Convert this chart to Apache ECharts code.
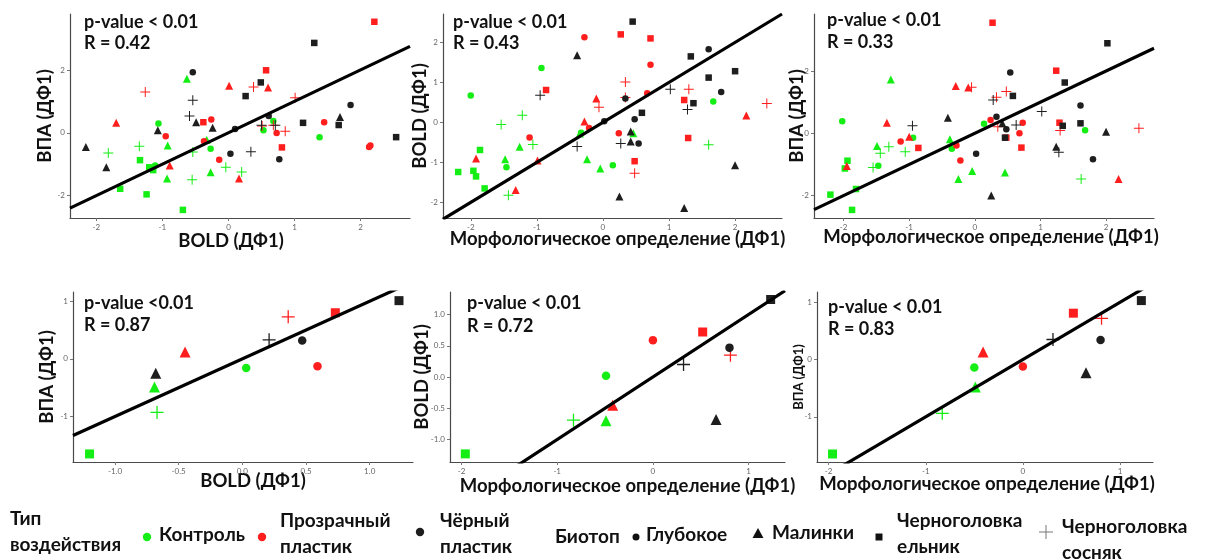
<!DOCTYPE html>
<html><head><meta charset="utf-8">
<script src="https://cdn.jsdelivr.net/npm/echarts@6/dist/echarts.min.js"></script>
<style>html,body{margin:0;padding:0;background:#fff}#c{width:1229px;height:560px}</style>
</head><body><div id="c"></div>
<script>
// ===== DATA =====
// rows: [x, y, treatment (К=Контроль, П=Прозрачный пластик, Ч=Чёрный пластик), biotope (Г=Глубокое, М=Малинки, Е=ельник, С=сосняк)]
const panel1 = [
 [-0.63,1.74,'К','М'],[-1.06,0.30,'К','Г'],[-1.35,-0.43,'К','С'],[-1.82,-0.65,'К','С'],
 [-1.34,-0.88,'К','Е'],[-1.20,-1.11,'К','Е'],[-1.14,-1.20,'К','Е'],[-0.92,-0.41,'К','М'],
 [-0.93,-1.47,'К','М'],[-1.64,-1.80,'К','Е'],[-1.24,-1.98,'К','Е'],[-0.69,-2.48,'К','Е'],
 [-0.55,-1.51,'К','С'],[-0.54,-0.62,'К','С'],[-0.33,-0.22,'К','М'],[-0.27,-0.51,'К','Г'],
 [-0.27,-1.27,'К','М'],[-0.04,-1.11,'К','С'],[0.20,-1.26,'К','С'],[0.53,0.08,'К','Г'],
 [0.68,0.38,'К','Г'],[1.38,-0.14,'К','Г'],[-1.11,-1.05,'К','Г'],
 [-1.26,1.31,'П','С'],[-1.70,0.32,'П','М'],[-0.95,-0.11,'П','Г'],[-0.89,-1.05,'П','М'],
 [-0.38,0.34,'П','Е'],[-0.26,0.43,'П','Г'],[-0.37,-0.27,'П','Г'],[0.01,1.51,'П','М'],
 [0.38,1.47,'П','С'],[0.60,1.46,'П','М'],[0.57,2.01,'П','Е'],[2.21,3.57,'П','Е'],
 [0.51,0.22,'П','С'],[0.68,0.24,'П','С'],[0.73,-0.01,'П','Г'],[0.86,0.05,'П','С'],
 [0.81,-0.47,'П','Е'],[0.16,-1.47,'П','М'],[-0.14,-0.87,'П','Г'],[1.45,0.34,'П','Г'],
 [2.13,-0.46,'П','Г'],[2.15,-0.41,'П','Г'],[1.01,1.13,'П','С'],
 [-2.16,-0.46,'Ч','М'],[-1.85,-1.11,'Ч','М'],[-1.07,0.08,'Ч','М'],[-0.49,0.34,'Ч','М'],
 [-0.24,0.16,'Ч','М'],[-0.54,1.95,'Ч','Г'],[-0.54,1.05,'Ч','С'],[-0.59,0.54,'Ч','С'],
 [0.10,0.12,'Ч','Г'],[0.03,-0.67,'Ч','Г'],[0.34,-0.61,'Ч','С'],[0.49,1.62,'Ч','Е'],
 [0.26,1.18,'Ч','Е'],[0.61,0.54,'Ч','Г'],[0.50,0.24,'Ч','С'],[0.71,0.24,'Ч','С'],
 [0.77,-0.85,'Ч','Г'],[1.30,2.89,'Ч','Е'],[1.13,0.32,'Ч','Е'],[1.85,0.89,'Ч','Г'],
 [1.69,0.51,'Ч','М'],[1.67,0.25,'Ч','Е'],[2.54,-0.14,'Ч','Е']
];
const panel2 = [
 [-2.00,0.67,'К','Г'],[-0.93,1.36,'К','Г'],[-1.54,-0.05,'К','С'],[-1.22,0.18,'К','С'],
 [-1.86,-0.69,'К','Е'],[-2.19,-1.24,'К','Е'],[-1.96,-1.21,'К','Е'],[-1.92,-1.35,'К','Е'],
 [-1.79,-1.65,'К','Е'],[-1.48,-0.92,'К','М'],[-1.46,-1.12,'К','Г'],[-1.26,-0.61,'К','М'],
 [-1.06,-0.55,'К','С'],[-1.43,-1.82,'К','С'],[-0.35,-0.28,'К','М'],[-0.33,-0.26,'К','Г'],
 [-0.24,-0.92,'К','М'],[-0.04,-1.15,'К','М'],[0.15,-1.07,'К','Г'],[0.46,-0.27,'К','М'],
 [1.67,0.52,'К','Г'],[1.60,-0.56,'К','С'],
 [-0.28,2.13,'П','Г'],[0.27,2.20,'П','Е'],[0.72,2.10,'П','Е'],[0.72,1.44,'П','Г'],
 [-0.86,0.81,'П','Е'],[-1.11,-0.38,'П','Г'],[-1.92,-0.90,'П','М'],[-1.32,-1.69,'П','М'],
 [-0.99,-0.95,'П','М'],[-0.10,0.60,'П','М'],[-0.06,0.38,'П','С'],[-0.28,0.02,'П','М'],
 [-0.21,-0.14,'П','Г'],[0.34,1.01,'П','С'],[0.34,0.62,'П','С'],[0.67,0.73,'П','Г'],
 [0.24,-0.27,'П','Г'],[0.48,-0.97,'П','Е'],[0.48,-1.27,'П','С'],[1.23,0.56,'П','Е'],
 [1.29,-0.39,'П','Е'],[1.30,0.83,'П','С'],[2.48,0.47,'П','С'],[2.17,0.17,'П','М'],
 [0.45,2.52,'Ч','Е'],[-0.39,1.68,'Ч','М'],[1.60,1.83,'Ч','Г'],[1.33,1.65,'Ч','Е'],
 [1.60,1.12,'Ч','Е'],[2.00,1.28,'Ч','Е'],[1.79,0.76,'Ч','Г'],[1.02,0.83,'Ч','С'],
 [1.28,0.32,'Ч','С'],[1.37,0.48,'Ч','Е'],[0.34,0.60,'Ч','Г'],[0.59,0.24,'Ч','Е'],
 [0.48,0.08,'Ч','Г'],[0.02,0.03,'Ч','Г'],[0.42,-0.23,'Ч','М'],[0.42,-0.48,'Ч','М'],
 [0.54,-0.53,'Ч','Г'],[0.27,-0.53,'Ч','С'],[-0.39,-0.60,'Ч','С'],[-0.95,0.68,'Ч','С'],
 [0.25,-1.85,'Ч','М'],[1.23,-2.14,'Ч','М'],[2.00,-1.07,'Ч','М']
];
const panel3 = [
 [-2.02,0.39,'К','Г'],[-1.28,1.73,'К','М'],[-1.94,-0.88,'К','Е'],[-1.98,-1.13,'К','Е'],
 [-2.20,-1.97,'К','Е'],[-1.87,-2.46,'К','Е'],[-1.81,-1.79,'К','Е'],[-1.49,-0.41,'К','М'],
 [-1.31,-0.43,'К','С'],[-1.44,-0.64,'К','С'],[-1.47,-1.04,'К','Г'],[-1.55,-1.10,'К','С'],
 [-0.94,-0.14,'К','Г'],[-0.38,-0.19,'К','М'],[-0.35,-0.50,'К','Г'],[-0.25,-1.47,'К','М'],
 [-0.04,-1.21,'К','М'],[0.14,0.31,'К','Г'],[0.46,-1.26,'К','М'],[1.68,0.10,'К','Г'],
 [1.62,-1.47,'К','С'],[-1.06,-0.59,'К','С'],
 [0.27,3.55,'П','Е'],[-0.29,1.52,'П','М'],[-0.10,1.47,'П','М'],[-0.05,1.48,'П','С'],
 [0.48,1.34,'П','С'],[0.33,1.16,'П','С'],[-1.34,0.34,'П','М'],[-1.00,-0.11,'П','М'],
 [-1.13,-0.26,'П','Г'],[-0.86,-0.47,'П','Е'],[-1.95,-1.05,'П','М'],[-0.28,-0.39,'П','Г'],
 [-0.22,-0.87,'П','Г'],[0.24,0.43,'П','Г'],[0.35,0.21,'П','С'],[0.48,-0.14,'П','Е'],
 [0.68,0.00,'П','Г'],[0.73,0.34,'П','Г'],[0.71,-0.46,'П','Е'],[1.24,2.01,'П','Е'],
 [1.29,0.34,'П','Е'],[1.30,0.09,'П','С'],[2.50,0.16,'П','С'],[2.19,-1.47,'П','М'],
 [2.02,2.89,'Ч','Е'],[1.37,1.63,'Ч','Е'],[0.58,1.20,'Ч','Е'],[0.54,1.95,'Ч','Г'],
 [0.28,1.07,'Ч','С'],[0.33,0.53,'Ч','Г'],[0.42,0.32,'Ч','М'],[0.48,0.13,'Ч','Г'],
 [0.46,-0.14,'Ч','Е'],[0.63,0.27,'Ч','С'],[1.02,0.70,'Ч','С'],[1.61,0.89,'Ч','Г'],
 [1.61,0.32,'Ч','Е'],[1.34,0.24,'Ч','Е'],[2.00,0.05,'Ч','М'],[1.24,-0.43,'Ч','М'],
 [1.28,-0.61,'Ч','С'],[1.80,-0.83,'Ч','Г'],[0.02,-0.66,'Ч','Г'],[-0.41,0.50,'Ч','М'],
 [-0.95,0.24,'Ч','С'],[0.25,-2.00,'Ч','М']
];
const panel4 = [
 [-1.20,-1.65,'К','Е'],[-0.67,-0.93,'К','С'],[-0.69,-0.49,'К','М'],[0.03,-0.16,'К','Г'],
 [-0.45,0.12,'П','М'],[0.36,0.73,'П','С'],[0.59,-0.13,'П','Г'],[0.73,0.80,'П','Е'],
 [-0.68,-0.25,'Ч','М'],[0.21,0.33,'Ч','С'],[0.47,0.32,'Ч','Г'],[1.23,1.01,'Ч','Е']
];
const panel5 = [
 [-1.96,-1.23,'К','Е'],[-0.83,-0.69,'К','С'],[-0.49,-0.70,'К','М'],[-0.49,0.02,'К','Г'],
 [-0.42,-0.45,'П','М'],[0.00,0.59,'П','Г'],[0.52,0.72,'П','Е'],[0.81,0.35,'П','С'],
 [0.32,0.20,'Ч','С'],[0.80,0.47,'Ч','Г'],[0.66,-0.68,'Ч','М'],[1.23,1.24,'Ч','Е']
];
const panel6 = [
 [-1.96,-1.65,'К','Е'],[-0.83,-0.94,'К','С'],[-0.49,-0.48,'К','М'],[-0.50,-0.14,'К','Г'],
 [-0.41,0.13,'П','М'],[0.00,-0.12,'П','Г'],[0.52,0.81,'П','Е'],[0.81,0.72,'П','С'],
 [0.31,0.35,'Ч','С'],[0.80,0.34,'Ч','Г'],[0.65,-0.23,'Ч','М'],[1.22,1.03,'Ч','Е']
];
const pTexts = ['p-value < 0.01','p-value < 0.01','p-value < 0.01','p-value <0.01','p-value < 0.01','p-value < 0.01'];
const rTexts = ['R = 0.42','R = 0.43','R = 0.33','R = 0.87','R = 0.72','R = 0.83'];
const slopes = [1.01, 1.0, 1.0, 1.0, 1.0, 1.0];
const intercepts = [0, 0, 0, 0, 0, 0];
const xNames = ['BOLD (ДФ1)','Морфологическое определение (ДФ1)','Морфологическое определение (ДФ1)','BOLD (ДФ1)','Морфологическое определение (ДФ1)','Морфологическое определение (ДФ1)'];
const yNames = ['ВПА (ДФ1)','BOLD (ДФ1)','ВПА (ДФ1)','ВПА (ДФ1)','BOLD (ДФ1)','ВПА (ДФ1)'];
const xTicks = [[-2,-1,0,1,2],[-2,-1,0,1,2],[-2,-1,0,1,2],[-1,-0.5,0,0.5,1],[-2,-1,0,1],[-2,-1,0,1]];
const yTicks = [[-2,0,2],[-2,-1,0,1,2],[-2,0,2],[-1,0,1],[-1,-0.5,0,0.5,1],[-1,0,1]];
const xDigits = [0,0,0,1,0,0];
const yDigits = [0,0,0,0,1,0];
const xRanges = [[-2.40,2.75],[-2.42,2.71],[-2.45,2.73],[-1.33,1.34],[-2.12,1.38],[-2.12,1.34]];
const yRanges = [[-2.74,3.82],[-2.39,2.71],[-2.72,3.83],[-1.79,1.16],[-1.36,1.36],[-1.79,1.18]];
const treatments = ['К','П','Ч'];
const biotopes = ['Г','М','Е','С'];
const legendTitles = ['Тип\nвоздействия','Биотоп'];
const treatmentLabels = ['Контроль','Прозрачный\nпластик','Чёрный\nпластик'];
const biotopeLabels = ['Глубокое','Малинки','Черноголовка\nельник','Черноголовка\nсосняк'];

// ===== STYLE / LAYOUT =====
const FONT = 'Lato, "Open Sans", sans-serif';
const COLORS = {'К':'#14ee14','П':'#ff1e1e','Ч':'#1e1e1e'};
const PLUS = 'path://M4.5,0H5.5V4.5H10V5.5H5.5V10H4.5V5.5H0V4.5H4.5Z';
const SYM = {'Г':'circle','М':'triangle','Е':'rect','С':PLUS};
const SIZE_T = {'Г':6.5,'М':8,'Е':6.5,'С':10};
const SIZE_B = {'Г':8.5,'М':11,'Е':9,'С':13};
const grids = [
 {left:70,top:14,width:340,height:204},
 {left:443,top:14,width:339,height:204},
 {left:814,top:14,width:340,height:204},
 {left:73,top:292,width:340,height:170},
 {left:450,top:292,width:335,height:170},
 {left:817,top:292,width:336,height:170}
];
const NAME_SIZE = 18.5;
const xNameGap = [14,12,10,10,15,13];
const xNamePad = [[0,18,0,0],[0,0,0,10],[0,0,0,14],[0,0,0,20],[0,0,0,20],[0,0,0,4]];
const yNameGap = [15,13,7,16,18,12];
const yNameSize = [NAME_SIZE,NAME_SIZE,NAME_SIZE,NAME_SIZE,NAME_SIZE,13];
const statPos = [[84,22,43],[453,22,43],[827,20,42],[84,303,325],[467,303,326],[828,307,329]];

const panels = [panel1,panel2,panel3,panel4,panel5,panel6];
const option = {animation:false, backgroundColor:'#fff', grid:[], xAxis:[], yAxis:[], series:[], graphic:[]};

panels.forEach((rows,i)=>{
  const bottom = i>=3;
  option.grid.push(Object.assign({containLabel:false, outerBoundsMode:'none'}, grids[i]));
  const axisCommon = {
    type:'value', gridIndex:i, nameLocation:'middle', nameMoveOverlap:false,
    axisLine:{show:true,onZero:false,lineStyle:{color:'#4a4a4a',width:1.2}},
    splitLine:{show:false}
  };
  option.xAxis.push(Object.assign({}, axisCommon, {
    min:xRanges[i][0], max:xRanges[i][1],
    name:xNames[i], nameGap:xNameGap[i],
    nameTextStyle:{fontFamily:FONT,fontWeight:'bold',fontSize:NAME_SIZE,color:'#111',padding:xNamePad[i]},
    axisTick:{show:true,length:3,lineStyle:{color:'#777'},customValues:xTicks[i]},
    axisLabel:{customValues:xTicks[i],fontSize:8,color:'#666',margin:5,fontFamily:FONT,
      formatter:v=>Number(v).toFixed(xDigits[i])}
  }));
  option.yAxis.push(Object.assign({}, axisCommon, {
    min:yRanges[i][0], max:yRanges[i][1],
    name:yNames[i], nameGap:yNameGap[i], nameRotate:90,
    nameTextStyle:{fontFamily:FONT,fontWeight:'bold',fontSize:yNameSize[i],color:'#111'},
    axisTick:{show:true,length:3,lineStyle:{color:'#777'},customValues:yTicks[i]},
    axisLabel:{customValues:yTicks[i],fontSize:8,color:'#666',margin:5,fontFamily:FONT,
      formatter:v=>Number(v).toFixed(yDigits[i])}
  }));
  treatments.forEach(t=>{
    biotopes.forEach(b=>{
      const data = rows.filter(r=>r[2]===t && r[3]===b).map(r=>[r[0],r[1]]);
      if(!data.length) return;
      option.series.push({
        type:'scatter', xAxisIndex:i, yAxisIndex:i, data,
        symbol:SYM[b], symbolSize:(bottom?SIZE_B:SIZE_T)[b],
        itemStyle:{color:COLORS[t],opacity:1}, silent:true, z:2
      });
    });
  });
  const x0 = xRanges[i][0], x1 = xRanges[i][1];
  option.series.push({
    type:'line', xAxisIndex:i, yAxisIndex:i, clip:true, silent:true, z:3,
    data:[[x0, slopes[i]*x0+intercepts[i]],[x1, slopes[i]*x1+intercepts[i]]],
    symbol:'none', lineStyle:{color:'#000',width:3.2}
  });
  const sp = statPos[i];
  [[pTexts[i],sp[1]],[rTexts[i],sp[2]]].forEach(([txt,y])=>{
    option.graphic.push({type:'text', x:sp[0], y:y, z:10, silent:true,
      style:{text:txt, fontFamily:FONT, fontWeight:'bold', fontSize:18, fill:'#111',
        verticalAlign:'middle', textVerticalAlign:'middle'}});
  });
});

// ===== LEGEND (graphic) =====
const LF = {fontFamily:FONT, fontWeight:'bold', fontSize:19, fill:'#111', lineHeight:26, verticalAlign:'middle', textVerticalAlign:'middle'};
function ltext(txt,x,y){ option.graphic.push({type:'text',x,y,silent:true,style:Object.assign({text:txt},LF)}); }
ltext(legendTitles[0],10,532);
const tPos = [[147,537,159,535],[262,537,280,534],[420,532,440,534]];
treatmentLabels.forEach((lab,k)=>{
  const p = tPos[k];
  option.graphic.push({type:'circle',silent:true,shape:{cx:p[0],cy:p[1],r:4.2},style:{fill:COLORS[treatments[k]]}});
  ltext(lab,p[2],p[3]);
});
ltext(legendTitles[1],555,537);
const bPos = [[636,537,646,535],[758,533,772,533],[879,537,897,534],[1046,532,1062,540]];
const dark = '#111';
biotopeLabels.forEach((lab,k)=>{
  const p = bPos[k];
  const b = biotopes[k];
  if(b==='Г') option.graphic.push({type:'circle',silent:true,shape:{cx:p[0],cy:p[1],r:3.5},style:{fill:dark}});
  if(b==='М') option.graphic.push({type:'polygon',silent:true,shape:{points:[[p[0],p[1]-5],[p[0]-5.5,p[1]+5],[p[0]+5.5,p[1]+5]]},style:{fill:dark}});
  if(b==='Е') option.graphic.push({type:'rect',silent:true,shape:{x:p[0]-3.5,y:p[1]-3.5,width:7,height:7},style:{fill:dark}});
  if(b==='С') {
    option.graphic.push({type:'line',silent:true,shape:{x1:p[0]-7,y1:p[1],x2:p[0]+7,y2:p[1]},style:{stroke:'#777',lineWidth:1}});
    option.graphic.push({type:'line',silent:true,shape:{x1:p[0],y1:p[1]-7,x2:p[0],y2:p[1]+7},style:{stroke:'#777',lineWidth:1}});
  }
  ltext(lab,p[2],p[3]);
});

const chart = echarts.init(document.getElementById('c'));
chart.setOption(option);
</script></body></html>
